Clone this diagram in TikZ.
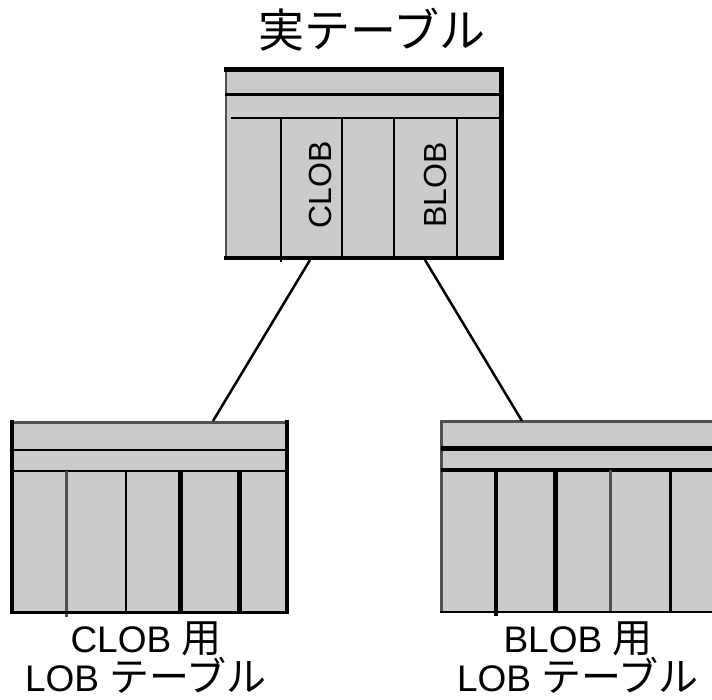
\documentclass[tikz,border=0pt]{standalone}
\usepackage{fontspec}
\setmainfont{Liberation Sans}
\newfontfamily\jp[Scale=1.08]{Noto Sans CJK JP}
\newfontfamily\jpt{Noto Sans CJK JP}
\definecolor{tfill}{RGB}{203,203,203}
\definecolor{lgray}{RGB}{80,80,80}
\tikzset{
  blk/.style={draw=black, line cap=butt},
  gry/.style={draw=lgray, line cap=butt},
  conn/.style={draw=black, line width=2.5pt},
  lbl/.style={anchor=base, inner sep=0pt, align=center, font=\fontsize{37}{36}\selectfont},
  ttl/.style={inner sep=0pt, font=\jpt\fontsize{46}{46}\selectfont},
  vtxt/.style={rotate=90, inner sep=0pt, font=\fontsize{32}{32}\selectfont},
}
\begin{document}
\begin{tikzpicture}[x=1pt,y=-1pt]
\useasboundingbox (0,0) rectangle (712,700);

% ---------- top table ----------
\node[inner sep=0pt, minimum width=0pt] (top) at (364,163) {};
\fill[tfill] (225,68) rectangle (503,258);
\draw[gry, line width=2.5pt] (226,68) -- (226,259);
\draw[blk, line width=3.5pt] (224,258) -- (503,258);
\draw[blk, line width=3pt] (225,95) -- (503,95);
\draw[blk, line width=2.5pt] (231,118) -- (503,118);
\draw[blk, line width=2.5pt] (281,118) -- (281,262);
\draw[blk, line width=2.5pt] (342,118) -- (342,258);
\draw[blk, line width=2.5pt] (394,118) -- (394,258);
\draw[blk, line width=2.5pt] (457,118) -- (457,258);
\draw[blk, line width=5pt] (224,70) -- (504,70);
\draw[blk, line width=5pt] (501.5,68) -- (501.5,260);
\node[vtxt] (clobv) at (320,185) {CLOB};
\node[vtxt] (blobv) at (435,185) {BLOB};
\node[ttl] (title) at (372,30) {実テーブル};

% ---------- left bottom table ----------
\node[inner sep=0pt] (lt) at (149,517) {};
\fill[tfill] (10,421) rectangle (288,613);
\draw[gry, line width=3pt] (10,422) -- (288,422);
\draw[blk, line width=2.5pt] (11,450) -- (287,450);
\draw[blk, line width=2pt] (12,471) -- (287,471);
\draw[gry, line width=3pt] (66.5,471) -- (66.5,617);
\draw[blk, line width=2.5pt] (126,471) -- (126,613);
\draw[blk, line width=4.5pt] (180.5,471) -- (180.5,613);
\draw[blk, line width=4.5pt] (239.5,471) -- (239.5,613);
\draw[blk, line width=4pt] (11.5,420) -- (11.5,614);
\draw[blk, line width=4pt] (286.5,420) -- (286.5,614);
\draw[blk, line width=3pt] (10,612.5) -- (288,612.5);
\node[lbl] (lcl) at (146,691) {CLOB {\jp 用}\\LOB {\jp テーブル}};

% ---------- right bottom table ----------
\node[inner sep=0pt] (rt) at (578,517) {};
\fill[tfill] (441,421) rectangle (716,613);
\draw[gry, line width=3pt] (440,421.5) -- (716,421.5);
\draw[gry, line width=2.5pt] (441.5,420) -- (441.5,613);
\draw[blk, line width=4.5pt] (441,448.5) -- (716,448.5);
\draw[blk, line width=3.5pt] (441,470) -- (716,470);
\draw[blk, line width=4.5pt] (496,470) -- (496,616);
\draw[blk, line width=4.5pt] (555.5,470) -- (555.5,613);
\draw[gry, line width=3.5pt] (610.5,470) -- (610.5,613);
\draw[blk, line width=2.5pt] (670.5,470) -- (670.5,613);
\draw[blk, line width=2.5pt] (440,612) -- (716,612);
\node[lbl] (rcl) at (578,691) {BLOB {\jp 用}\\LOB {\jp テーブル}};

% ---------- connectors ----------
\coordinate (topL) at (310,260);
\coordinate (topR) at (425,260);
\coordinate (ltTop) at (213,421);
\coordinate (rtTop) at (522,421);
\draw[conn] (topL) -- (ltTop);
\draw[conn] (topR) -- (rtTop);
\end{tikzpicture}
\end{document}
